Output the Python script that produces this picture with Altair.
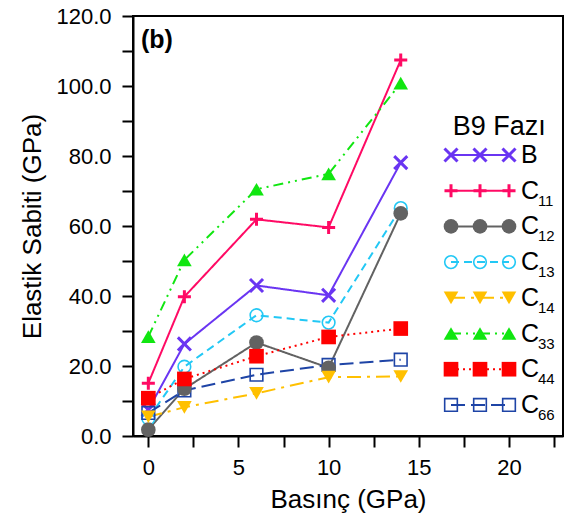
import altair as alt
import pandas as pd

# ---------------- data ----------------
pressure = [0, 2, 6, 10, 14]
series = ["B", "C11", "C12", "C13", "C14", "C33", "C44", "C66"]
val_B = [7.5, 26.3, 43.0, 40.2, 78.1]
val_C11 = [15.1, 39.8, 61.9, 59.6, 107.4]
val_C12 = [1.8, 13.5, 26.7, 19.5, 63.6]
val_C13 = [5.0, 19.8, 34.5, 32.4, 65.1]
val_C14 = [5.5, 8.2, 12.2, 16.8, 17.0]
val_C33 = [28.4, 50.3, 70.5, 74.9, 100.8]
val_C44 = [10.8, 16.3, 22.8, 28.3, 30.7]
val_C66 = [6.6, 13.0, 17.5, 20.3, 21.8]
all_vals = [val_B, val_C11, val_C12, val_C13, val_C14, val_C33, val_C44, val_C66]

label_main = ["B", "C", "C", "C", "C", "C", "C", "C"]
label_sub = ["", "11", "12", "13", "14", "33", "44", "66"]
legend_title = "B9 Fazı"
panel_label = "(b)"
x_title = "Basınç (GPa)"
y_title = "Elastik Sabiti (GPa)"

colors = ["#6a35f2", "#ff0a64", "#626262", "#22c8f5", "#ffc000", "#11e611", "#ff0000", "#1e44a6"]
shapes = [
    "M-1,-1L1,1M-1,1L1,-1",   # x
    "M-1,0L1,0M0,-1L0,1",     # +
    "circle", "circle", "triangle-down", "triangle-up", "square", "square",
]
dashes = [[1, 0], [1, 0], [1, 0], [8, 5], [14, 6, 3, 6], [10, 5, 2, 5, 2, 5], [2, 4], [14, 6]]
cross_series = ["B", "C11"]
open_series = ["C13", "C66"]
filled_series = ["C12", "C14", "C33", "C44"]
legend_slots = [0, 1, 2]

FONT = "Liberation Sans"

rows = []
for s, vals in zip(series, all_vals):
    for p, v in zip(pressure, vals):
        rows.append({"series": s, "pressure": p, "value": v})
df = pd.DataFrame(rows)

leg_rows = []
for i, s in enumerate(series):
    for k in legend_slots:
        leg_rows.append({"series": s, "slot": k, "row": i,
                         "main": label_main[i], "sub": label_sub[i]})
leg_df = pd.DataFrame(leg_rows)
leg_lab_df = leg_df[leg_df["slot"] == 0]
title_df = pd.DataFrame({"t": [legend_title]})
panel_df = pd.DataFrame({"t": [panel_label]})

# ---------------- scales / encodings ----------------
color = alt.Color("series:N", scale=alt.Scale(domain=series, range=colors), legend=None)
shape = alt.Shape("series:N", scale=alt.Scale(domain=series, range=shapes), legend=None)
dash = alt.StrokeDash("series:N", scale=alt.Scale(domain=series, range=dashes), legend=None)

x_scale = alt.Scale(domain=[-0.85, 23.0], nice=False, zero=False)
y_scale = alt.Scale(domain=[0, 120], nice=False, zero=False)
x_axis = alt.Axis(values=[0, 2.5, 5, 7.5, 10, 12.5, 15, 17.5, 20, 22.5],
                  labelExpr="datum.value % 5 == 0 ? datum.label : ''",
                  tickSize=11, labelPadding=10, titlePadding=8, grid=False)
y_axis = alt.Axis(values=list(range(0, 121, 10)), format=".1f",
                  labelExpr="datum.value % 20 == 0 ? datum.label : ''",
                  tickSize=11, labelPadding=11, titlePadding=10, grid=False)
X = alt.X("pressure:Q", scale=x_scale, axis=x_axis, title=x_title)
Y = alt.Y("value:Q", scale=y_scale, axis=y_axis, title=y_title)

base = alt.Chart(df)
lines = base.mark_line(strokeWidth=2).encode(x=X, y=Y, color=color, strokeDash=dash)
pts_cross = base.transform_filter(
    alt.FieldOneOfPredicate(field="series", oneOf=cross_series)
).mark_point(filled=False, size=170, strokeWidth=3, opacity=1).encode(x=X, y=Y, color=color, shape=shape)
pts_open = base.transform_filter(
    alt.FieldOneOfPredicate(field="series", oneOf=open_series)
).mark_point(filled=False, size=160, strokeWidth=1.6, opacity=1).encode(x=X, y=Y, color=color, shape=shape)
pts_fill = base.transform_filter(
    alt.FieldOneOfPredicate(field="series", oneOf=filled_series)
).mark_point(filled=True, size=215, opacity=1).encode(x=X, y=Y, color=color, shape=shape)
panel = alt.Chart(panel_df).mark_text(
    font=FONT, fontSize=25, fontWeight="bold", align="left", baseline="middle", color="black"
).encode(x=alt.value(8), y=alt.value(24), text="t:N")

main = alt.layer(lines, pts_cross, pts_open, pts_fill, panel)

# ---------------- legend drawn with its own scales ----------------
lx_scale = alt.Scale(domain=[-10.966, 3.862], nice=False, zero=False)
ly_scale = alt.Scale(domain=[-3.894, 7.871], nice=False, zero=False, reverse=True)
LX = alt.X("slot:Q", scale=lx_scale, axis=None)
LY = alt.Y("row:Q", scale=ly_scale, axis=None)

lbase = alt.Chart(leg_df)
l_lines = lbase.mark_line(strokeWidth=2).encode(x=LX, y=LY, color=color, strokeDash=dash, detail="series:N")
l_cross = lbase.transform_filter(
    alt.FieldOneOfPredicate(field="series", oneOf=cross_series)
).mark_point(filled=False, size=170, strokeWidth=3, opacity=1).encode(x=LX, y=LY, color=color, shape=shape)
l_open = lbase.transform_filter(
    alt.FieldOneOfPredicate(field="series", oneOf=open_series)
).mark_point(filled=False, size=160, strokeWidth=1.6, opacity=1).encode(x=LX, y=LY, color=color, shape=shape)
l_fill = lbase.transform_filter(
    alt.FieldOneOfPredicate(field="series", oneOf=filled_series)
).mark_point(filled=True, size=215, opacity=1).encode(x=LX, y=LY, color=color, shape=shape)
l_main = alt.Chart(leg_lab_df).mark_text(
    font=FONT, fontSize=25, align="left", baseline="middle", color="black"
).encode(x=alt.XDatum(2.41, scale=lx_scale, axis=None), y=LY, text="main:N")
l_sub = alt.Chart(leg_lab_df).mark_text(
    font=FONT, fontSize=15, align="left", baseline="middle", color="black", dx=17, dy=10
).encode(x=alt.XDatum(2.41, scale=lx_scale, axis=None), y=LY, text="sub:N")
l_title = alt.Chart(title_df).mark_text(
    font=FONT, fontSize=27, align="center", baseline="middle", color="black"
).encode(x=alt.XDatum(1.66, scale=lx_scale, axis=None),
         y=alt.YDatum(-0.78, scale=ly_scale, axis=None), text="t:N")

legend = alt.layer(l_lines, l_cross, l_open, l_fill, l_main, l_sub, l_title)

chart = alt.layer(main, legend).resolve_scale(
    x="independent", y="independent"
).properties(
    width=430, height=420,
    padding={"left": 133, "top": 16, "right": 4, "bottom": 86},
    autosize=alt.AutoSizeParams(type="none"),
).configure_view(
    stroke="black", strokeWidth=2
).configure_axis(
    domainColor="black", domainWidth=2, tickColor="black", tickWidth=2,
    labelFont=FONT, labelFontSize=22, labelColor="black",
    titleFont=FONT, titleFontSize=26, titleFontWeight="normal", titleColor="black",
)

chart.save("out.html", embed_options={"renderer": "svg", "actions": False})
